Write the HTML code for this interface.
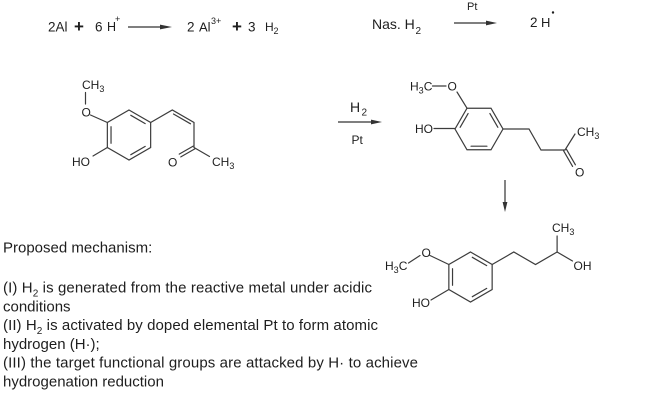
<!DOCTYPE html>
<html><head><meta charset="utf-8"><style>
html,body{margin:0;padding:0;background:#fff;}
svg{display:block;}
text{font-family:"Liberation Sans",Arial,sans-serif;fill:#1e1e1e;}
</style></head><body>
<svg width="651" height="412" viewBox="0 0 651 412" xmlns="http://www.w3.org/2000/svg">
<rect width="651" height="412" fill="#fff"/>

<!-- Top equation 1 -->
<text x="48" y="31.5" font-size="13.5">2Al</text>
<text x="74" y="32" font-size="17" font-weight="bold">+</text>
<text x="95" y="31.5" font-size="13.5">6</text>
<text x="107" y="31" font-size="12.5">H</text>
<text x="115" y="22" font-size="9">+</text>
<line x1="128" y1="27" x2="163" y2="27" stroke="#333" stroke-width="1.2"/>
<polygon points="160,24.6 172,27 160,29.4" fill="#333"/>
<text x="187" y="31.5" font-size="13.5">2</text>
<text x="199" y="31.5" font-size="13">Al</text>
<text x="211" y="24" font-size="9">3+</text>
<text x="232" y="32" font-size="17" font-weight="bold">+</text>
<text x="248" y="31.5" font-size="13.5">3</text>
<text x="265" y="31" font-size="12">H</text>
<text x="273.5" y="34" font-size="9">2</text>

<!-- Top equation 2 -->
<text x="372" y="29" font-size="14">Nas. H</text>
<text x="415.5" y="34" font-size="10">2</text>
<text x="467" y="10" font-size="11">Pt</text>
<line x1="454" y1="23" x2="489" y2="23" stroke="#333" stroke-width="1.2"/>
<polygon points="486,20.6 497,23 486,25.4" fill="#333"/>
<text x="530" y="27" font-size="13.5">2</text>
<text x="541" y="27" font-size="13">H</text>
<circle cx="553" cy="12.5" r="1.2" fill="#1e1e1e"/>

<!-- Molecule 1 -->
<g stroke="#3c3c3c" stroke-width="1.2" fill="none" stroke-linecap="round">
<polygon points="129,110 150.65,122.5 150.65,147.5 129,160 107.35,147.5 107.35,122.5"/>
<line x1="111.03" y1="126.7" x2="111.03" y2="143.3"/>
<line x1="130.8" y1="115.3" x2="145.2" y2="123.6"/>
<line x1="145.2" y1="146.4" x2="130.8" y2="154.7"/>
<line x1="85.5" y1="92.5" x2="85.5" y2="104"/>
<line x1="90.5" y1="115" x2="107.35" y2="122.5"/>
<line x1="107.35" y1="147.5" x2="93" y2="156"/>
<polyline points="150.65,122.5 172.3,110 194,122.5 194,147.5"/>
<line x1="173.5" y1="114" x2="190.5" y2="123.8"/>
<line x1="194.8" y1="148.9" x2="180.8" y2="156.9"/>
<line x1="193.2" y1="146.1" x2="179.2" y2="154.1"/>
<line x1="194" y1="147.5" x2="209.5" y2="156.5"/>
</g>
<text x="82" y="89" font-size="12">CH<tspan font-size="9" dy="3">3</tspan></text>
<text x="81.5" y="116.5" font-size="12">O</text>
<text x="72" y="166" font-size="12">HO</text>
<text x="168" y="166.5" font-size="12">O</text>
<text x="212" y="166" font-size="12">CH<tspan font-size="9" dy="3">3</tspan></text>

<!-- Arrow H2 / Pt -->
<text x="350" y="112" font-size="14">H</text>
<text x="361.5" y="115.5" font-size="10">2</text>
<line x1="338" y1="122" x2="374" y2="122" stroke="#333" stroke-width="1.2"/>
<polygon points="371,119.6 382,122 371,124.4" fill="#333"/>
<text x="351.5" y="144" font-size="12">Pt</text>

<!-- Molecule 2 -->
<g stroke="#3c3c3c" stroke-width="1.2" fill="none" stroke-linecap="round">
<polygon points="455,129 467,108.22 491,108.22 503,129 491,149.78 467,149.78"/>
<line x1="460.14" y1="127.28" x2="468.09" y2="113.53"/>
<line x1="489.91" y1="113.53" x2="497.86" y2="127.28"/>
<line x1="486.9" y1="146.19" x2="471.1" y2="146.19"/>
<line x1="457" y1="92" x2="467" y2="108.22"/>
<line x1="432.5" y1="86" x2="446" y2="86"/>
<line x1="434" y1="128.5" x2="455" y2="128.5"/>
<polyline points="503,129 529,129 541,150 565,150 575,134"/>
<line x1="566.4" y1="149.2" x2="575.4" y2="164.8"/>
<line x1="563.6" y1="150.8" x2="572.6" y2="166.4"/>
</g>
<text x="410" y="90.5" font-size="12">H<tspan font-size="9" dy="3">3</tspan><tspan dy="-3">C</tspan></text>
<text x="447.5" y="90.5" font-size="12">O</text>
<text x="415" y="133" font-size="12">HO</text>
<text x="577" y="136" font-size="12">CH<tspan font-size="9" dy="3">3</tspan></text>
<text x="575" y="176.5" font-size="12">O</text>

<!-- Down arrow -->
<line x1="505" y1="180" x2="505" y2="204" stroke="#333" stroke-width="1.2"/>
<polygon points="502.6,202 505,212 507.4,202" fill="#333"/>

<!-- Molecule 3 -->
<g stroke="#3c3c3c" stroke-width="1.2" fill="none" stroke-linecap="round">
<polygon points="470.5,252 492.15,264.5 492.15,289.5 470.5,302 448.85,289.5 448.85,264.5"/>
<line x1="452.53" y1="268.7" x2="452.53" y2="285.3"/>
<line x1="472.3" y1="257.3" x2="486.7" y2="265.6"/>
<line x1="486.7" y1="288.4" x2="472.3" y2="296.7"/>
<line x1="430" y1="255.5" x2="448.85" y2="264.5"/>
<line x1="420" y1="255.5" x2="408.5" y2="263"/>
<line x1="448.85" y1="289.5" x2="431" y2="300"/>
<polyline points="492.15,264.5 513.8,252 535.5,264.5 557.1,252"/>
<line x1="557.1" y1="252" x2="557.1" y2="236"/>
<line x1="557.1" y1="252" x2="572.5" y2="261"/>
</g>
<text x="385" y="270" font-size="12">H<tspan font-size="9" dy="3">3</tspan><tspan dy="-3">C</tspan></text>
<text x="421.5" y="257" font-size="12">O</text>
<text x="412" y="307" font-size="12">HO</text>
<text x="552" y="232" font-size="12">CH<tspan font-size="9" dy="3">3</tspan></text>
<text x="573.5" y="270" font-size="12">OH</text>

<!-- Text block -->
<g font-size="15">
<text x="3" y="252.5">Proposed mechanism:</text>
<text x="3" y="292.5" textLength="369" lengthAdjust="spacing">(I) H<tspan font-size="10" dy="4">2</tspan><tspan dy="-4"> is generated from the reactive metal under acidic</tspan></text>
<text x="3" y="311.3">conditions</text>
<text x="3" y="330.1" textLength="375" lengthAdjust="spacing">(II) H<tspan font-size="10" dy="4">2</tspan><tspan dy="-4"> is activated by doped elemental Pt to form atomic</tspan></text>
<text x="3" y="348.9">hydrogen (H·);</text>
<text x="3" y="367.7" textLength="415" lengthAdjust="spacing">(III) the target functional groups are attacked by H· to achieve</text>
<text x="3" y="386.5">hydrogenation reduction</text>
</g>
</svg>
</body></html>
